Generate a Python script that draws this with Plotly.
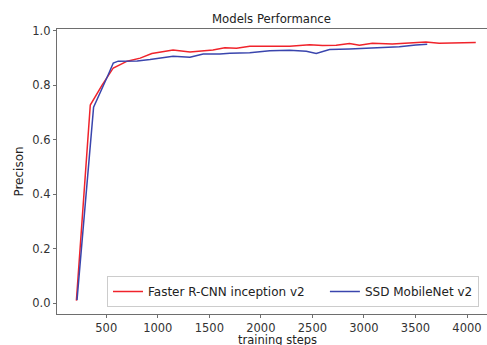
import plotly.graph_objects as go

# Data
faster_steps = [210, 345, 458, 568, 703, 829, 942, 1050, 1148, 1312, 1420, 1535, 1650, 1764,
                1892, 2086, 2279, 2473, 2599, 2731, 2860, 2956, 3082, 3275, 3440, 3601, 3730,
                3923, 4085]
faster_prec = [0.01, 0.728, 0.80, 0.864, 0.889, 0.90, 0.917, 0.925, 0.93, 0.923, 0.927, 0.93,
               0.938, 0.936, 0.944, 0.945, 0.944, 0.949, 0.946, 0.947, 0.954, 0.947, 0.955,
               0.952, 0.955, 0.959, 0.955, 0.957, 0.957]

ssd_steps = [216, 377, 520, 568, 616, 800, 925, 990, 1148, 1312, 1440, 1602, 1699, 1892, 2086,
             2279, 2441, 2537, 2666, 2860, 3053, 3149, 3343, 3504, 3614]
ssd_prec = [0.012, 0.72, 0.84, 0.882, 0.889, 0.89, 0.895, 0.899, 0.907, 0.903, 0.915, 0.915,
            0.918, 0.92, 0.927, 0.929, 0.925, 0.917, 0.932, 0.934, 0.937, 0.938, 0.942, 0.948,
            0.951]

x_ticks = [500, 1000, 1500, 2000, 2500, 3000, 3500, 4000]
y_ticks = [0.0, 0.2, 0.4, 0.6, 0.8, 1.0]
y_tick_labels = ["0.0", "0.2", "0.4", "0.6", "0.8", "1.0"]

FONT = "DejaVu Sans"
PAD = "\u00a0" * 4

fig = go.Figure()
fig.add_trace(go.Scatter(x=faster_steps, y=faster_prec, mode="lines",
                         name="Faster R-CNN inception v2" + PAD,
                         line=dict(color="#f0232b", width=1.5)))
fig.add_trace(go.Scatter(x=ssd_steps, y=ssd_prec, mode="lines",
                         name="SSD MobileNet v2",
                         line=dict(color="#3a45ad", width=1.5)))

axis_common = dict(showgrid=False, zeroline=False, showline=True, linecolor="#6e6e6e",
                   linewidth=1.3, mirror=True, ticks="outside", ticklen=3, tickwidth=1,
                   tickcolor="#6e6e6e", tickfont=dict(family=FONT, size=11.5, color="#333"),
                   automargin=False)

fig.update_layout(
    width=487, height=345,
    margin=dict(l=57, r=0, t=29, b=31, autoexpand=False),
    paper_bgcolor="white", plot_bgcolor="white",
    font=dict(family=FONT, size=12, color="#222"),
    title=dict(text="Models Performance", x=271.5 / 487, xanchor="center",
               y=1 - 19 / 345, yanchor="middle",
               font=dict(family=FONT, size=11.7, color="#222")),
    xaxis=dict(range=[22, 4194], tickvals=x_ticks, **axis_common),
    yaxis=dict(range=[-0.039, 1.007], tickvals=y_ticks, ticktext=y_tick_labels,
               title=dict(text="Precison", standoff=6,
                          font=dict(family=FONT, size=12, color="#222")),
               **axis_common),
    showlegend=True,
    legend=dict(orientation="h", x=(107 - 57) / (487 - 57), xanchor="left",
                y=(314 - 307) / 285, yanchor="bottom",
                bgcolor="white", bordercolor="#cccccc", borderwidth=1,
                font=dict(family=FONT, size=12, color="#222"),
                itemwidth=30),
)

# x-axis title placed just below the tick labels
fig.add_annotation(text="training steps", xref="paper", yref="paper",
                   x=(277 - 57) / 430, y=-18 / 285, xanchor="center", yanchor="top",
                   showarrow=False, borderpad=0,
                   font=dict(family=FONT, size=11.5, color="#222"))

fig.write_html("out.html")
